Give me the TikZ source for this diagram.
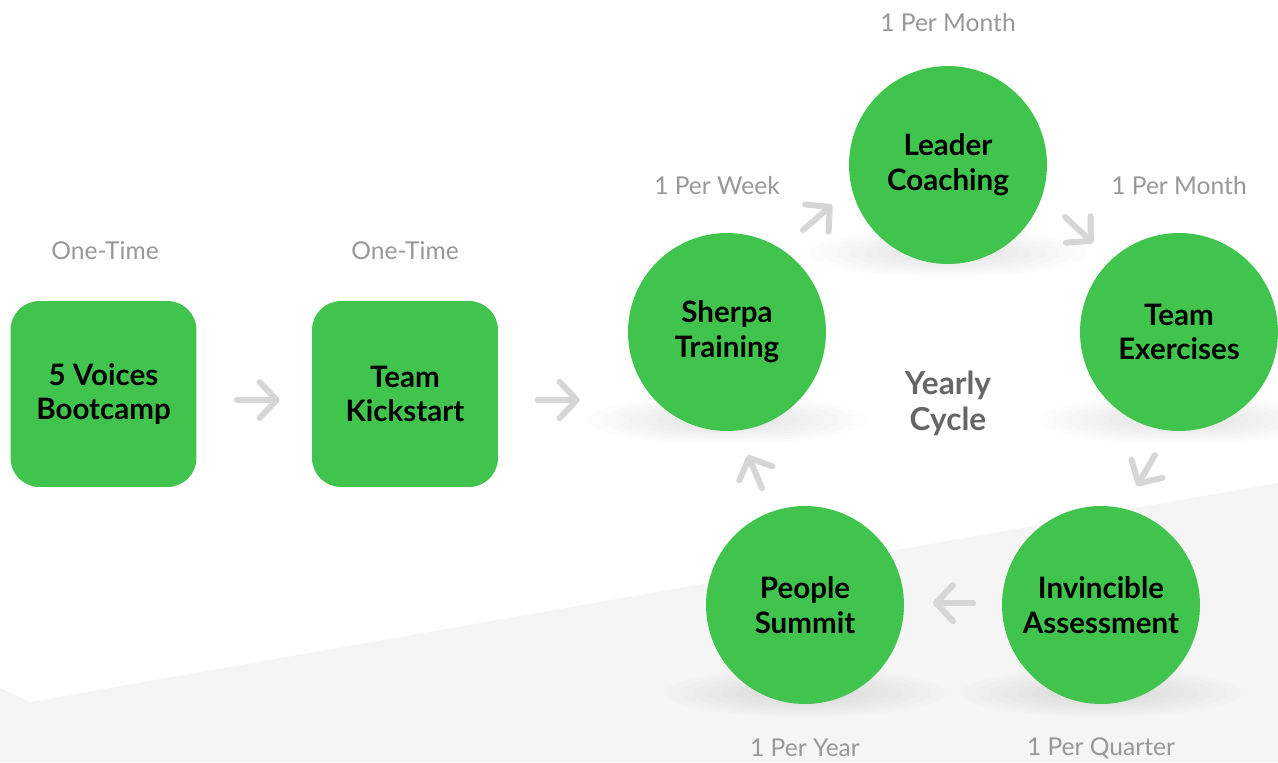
\documentclass[tikz,border=0pt]{standalone}
\usepackage{fontspec}
\setmainfont{Lato}
\usetikzlibrary{arrows.meta,calc}
\definecolor{stagegreen}{RGB}{64,196,78}
\definecolor{arrowgray}{RGB}{214,214,214}
\definecolor{freqgray}{RGB}{152,152,152}
\definecolor{cyclegray}{RGB}{102,102,102}
\definecolor{floorgray}{RGB}{245,245,245}
\begin{document}
\begin{tikzpicture}[x=0.02cm,y=-0.02cm,
    stage/.style={fill=stagegreen,rounded corners=0.58cm,minimum size=3.72cm,align=center,
      font=\fontsize{16.8}{19.8}\selectfont\bfseries},
    ring/.style={circle,fill=stagegreen,minimum size=3.96cm,inner sep=0pt,align=center,
      font=\fontsize{16.8}{19.8}\selectfont\bfseries},
    freq/.style={text=freqgray,font=\fontsize{14}{16}\selectfont},
    flow/.style={draw=arrowgray,line width=0.12cm,line cap=round,
      -{Straight Barb[round,length=0.34cm,width=0.72cm]}}]
      \useasboundingbox (0,0) rectangle (1278,762);
      \fill[white] (0,0) rectangle (1278,762);
      \fill[floorgray] (0,688) -- (30,702) -- (1278,483) -- (1278,762) -- (0,762) -- cycle;

      \foreach \cx/\cy in {727/330,948/163,1179/330,1101/603,805/603}
        \foreach \s in {1,0.9,...,0.3}
          \fill[black,opacity=0.012] (\cx,\cy+90) ellipse ({140*\s} and {24*\s});

      \node[stage] (boot) at (103.5,394) {5 Voices\\Bootcamp};
      \node[stage] (kick) at (405,394) {Team\\Kickstart};

      \node[ring] (sherpa)    at (727,332)  {Sherpa\\Training};
      \node[ring] (leader)    at (948,165)  {Leader\\Coaching};
      \node[ring] (exercises) at (1179,332) {Team\\Exercises};
      \node[ring] (assess)    at (1101,605) {Invincible\\Assessment};
      \node[ring] (summit)    at (805,605)  {People\\Summit};

      \node[text=cyclegray,align=center,font=\fontsize{18}{20.5}\selectfont\bfseries] (cycle) at (948,403) {Yearly\\Cycle};

      \node[freq] (onceboot)  at (105,251)  {One-Time};
      \node[freq] (oncekick)  at (405,251)  {One-Time};
      \node[freq] (weekly)    at (717,186)  {1 Per Week};
      \node[freq] (monthlyA)  at (948,23)   {1 Per Month};
      \node[freq] (monthlyB)  at (1179,186) {1 Per Month};
      \node[freq] (yearly)    at (805,748)  {1 Per Year};
      \node[freq] (quarterly) at (1101,748) {1 Per Quarter};

      \draw[flow] ($(boot.east)+(40,6)$) -- ($(kick.west)+(-32,6)$);
      \draw[flow] ($(kick.east)+(39,6)$) -- ($(sherpa.west)+(-48,68)$);
      \draw[flow] ($(sherpa)+(76,-102)$) -- ($(leader)+(-116,40)$);
      \draw[flow] ($(leader)+(117,52)$) -- ($(exercises)+(-86,-89)$);
      \draw[flow] ($(exercises)+(-24,123)$) -- ($(assess)+(36,-119)$);
      \draw[flow] ($(assess)+(-128,-2)$) -- ($(summit)+(128,-2)$);
      \draw[flow] ($(summit)+(-43,-117)$) -- ($(sherpa)+(21,123)$);
    \end{tikzpicture}
\end{document}
